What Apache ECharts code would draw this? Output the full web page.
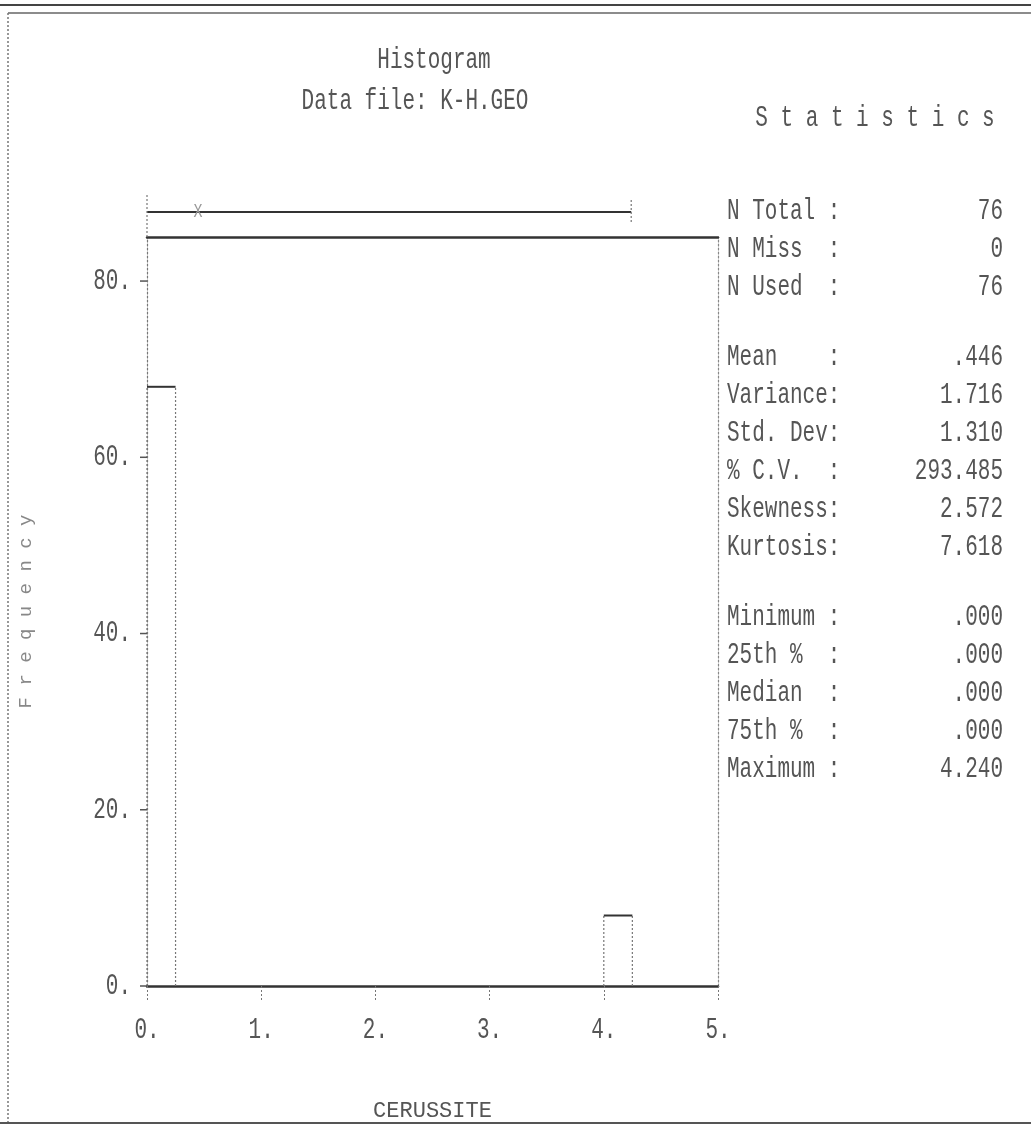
<!DOCTYPE html>
<html><head><meta charset="utf-8">
<script src="https://cdn.jsdelivr.net/npm/echarts@6/dist/echarts.min.js"></script>
<style>html,body{margin:0;padding:0;background:#fff}#c{width:1031px;height:1130px}</style>
</head><body><div id="c"></div>
<script>
// ---- data ----
const binStart = [0,0.25,0.5,0.75,1,1.25,1.5,1.75,2,2.25,2.5,2.75,3,3.25,3.5,3.75,4,4.25,4.5,4.75];
const binEnd   = [0.25,0.5,0.75,1,1.25,1.5,1.75,2,2.25,2.5,2.75,3,3.25,3.5,3.75,4,4.25,4.5,4.75,5];
const counts   = [68,0,0,0,0,0,0,0,0,0,0,0,0,0,0,0,8,0,0,0];
const xTicks = [0,1,2,3,4,5];
const yTicks = [0,20,40,60,80];
const rangeMin = 0.000, rangeMax = 4.240, rangeMean = 0.446;
const statGroups = [
  [["N Total :","76"],["N Miss  :","0"],["N Used  :","76"]],
  [["Mean    :",".446"],["Variance:","1.716"],["Std. Dev:","1.310"],["% C.V.  :","293.485"],["Skewness:","2.572"],["Kurtosis:","7.618"]],
  [["Minimum :",".000"],["25th %  :",".000"],["Median  :",".000"],["75th %  :",".000"],["Maximum :","4.240"]]
];
const titleText = "Histogram";
const subTitleText = "Data file: K-H.GEO";
const xName = "CERUSSITE";
const yName = "F r e q u e n c y";

const FONT = "'Liberation Mono','DejaVu Sans Mono',monospace";
const TXT = '#555';
const SY = 1.4;
const chart = echarts.init(document.getElementById('c'));

function txt(x,y,s,align,size,color){
  return {type:'text',x:x,y:y,scaleY:SY,style:{text:s,font:(size||21)+"px "+FONT,fill:color||TXT,textAlign:align||'left',textVerticalAlign:'middle'}};
}

const graphics = [];
// frame
graphics.push({type:'line',shape:{x1:0,y1:5,x2:1031,y2:5},style:{stroke:'#444',lineWidth:2}});
graphics.push({type:'line',shape:{x1:8,y1:13,x2:1031,y2:13},style:{stroke:'#666',lineWidth:1.5}});
graphics.push({type:'line',shape:{x1:8,y1:13,x2:8,y2:1124},style:{stroke:'#777',lineWidth:1.5,lineDash:[2,2]}});
graphics.push({type:'line',shape:{x1:0,y1:1123,x2:1031,y2:1123},style:{stroke:'#555',lineWidth:2}});
// titles
graphics.push(txt(434,60,titleText,'center'));
graphics.push(txt(415,101,subTitleText,'center'));
graphics.push(txt(875,118,"S t a t i s t i c s",'center'));
// stats
let yy = 211;
statGroups.forEach(g=>{
  g.forEach(r=>{
    graphics.push(txt(727,yy,r[0],'left'));
    graphics.push(txt(1003,yy,r[1],'right'));
    yy += 38;
  });
  yy += 32;
});

chart.setOption({
  animation:false,
  backgroundColor:'#fff',
  grid:{left:147,right:313,top:237,bottom:144},
  xAxis:[{
    type:'value',min:0,max:5,interval:1,
    name:xName,nameLocation:'middle',nameGap:114,
    nameTextStyle:{color:TXT,fontFamily:FONT,fontSize:22},
    axisLine:{show:true,onZero:false,lineStyle:{color:'#333',width:2.5}},
    axisTick:{show:true,length:14,lineStyle:{color:'#777',width:1,type:[2,2]}},
    axisLabel:{show:true,formatter:()=>''},
    splitLine:{show:false}
  },{
    type:'value',min:0,max:5,position:'top',
    axisLine:{show:true,onZero:false,lineStyle:{color:'#333',width:2.5}},
    axisTick:{show:false},axisLabel:{show:false},splitLine:{show:false}
  }],
  yAxis:[{
    type:'value',min:0,max:85,
    name:yName,nameLocation:'middle',nameGap:112,nameRotate:90,
    nameTextStyle:{color:'#888',fontFamily:FONT,fontSize:19},
    axisLine:{show:true,onZero:false,lineStyle:{color:'#777',width:1.2,type:[2,2]}},
    axisTick:{show:false},
    axisLabel:{show:false},
    splitLine:{show:false}
  },{
    type:'value',min:0,max:85,position:'right',
    axisLine:{show:true,onZero:false,lineStyle:{color:'#888',width:1.2,type:[2,2]}},
    axisTick:{show:false},axisLabel:{show:false},splitLine:{show:false}
  }],
  graphic:graphics,
  series:[{
    type:'custom',
    clip:false,
    data:binStart.map((s,i)=>[s,binEnd[i],counts[i]]),
    encode:{x:[0,1],y:2},
    renderItem:function(params,api){
      const c = api.value(2);
      if(!c) return null;
      const p0 = api.coord([api.value(0),0]);
      const p1 = api.coord([api.value(1),c]);
      return {type:'group',children:[
        {type:'line',shape:{x1:p0[0],y1:p0[1],x2:p0[0],y2:p1[1]},style:{stroke:'#777',lineWidth:1.2,lineDash:[2,2]}},
        {type:'line',shape:{x1:p1[0],y1:p0[1],x2:p1[0],y2:p1[1]},style:{stroke:'#777',lineWidth:1.2,lineDash:[2,2]}},
        {type:'line',shape:{x1:p0[0],y1:p1[1],x2:p1[0],y2:p1[1]},style:{stroke:'#333',lineWidth:2}}
      ]};
    }
  },{
    type:'custom',
    clip:false,
    data:[[rangeMin,rangeMax,rangeMean]],
    encode:{x:[0,1,2]},
    renderItem:function(params,api){
      const xa = api.coord([api.value(0),0])[0];
      const xb = api.coord([api.value(1),0])[0];
      const xm = api.coord([api.value(2),0])[0];
      const y = params.coordSys.y - 25;
      return {type:'group',children:[
        {type:'line',shape:{x1:xa,y1:y,x2:xb,y2:y},style:{stroke:'#333',lineWidth:2}},
        {type:'line',shape:{x1:xa,y1:y-17,x2:xa,y2:y+25},style:{stroke:'#777',lineWidth:1.2,lineDash:[2,2]}},
        {type:'line',shape:{x1:xb,y1:y-12,x2:xb,y2:y+10},style:{stroke:'#777',lineWidth:1.2,lineDash:[2,2]}},
        {type:'text',x:xm,y:y,scaleY:1.3,style:{text:'X',font:"15px "+FONT,fill:'#999',textAlign:'center',textVerticalAlign:'middle'}}
      ]};
    }
  },{
    // x tick labels, placed through the x scale
    type:'custom',clip:false,
    data:xTicks.map(v=>[v]),
    encode:{x:0},
    renderItem:function(params,api){
      const p = api.coord([api.value(0),0]);
      return {type:'text',x:p[0],y:p[1]+44,scaleY:SY,style:{text:api.value(0)+'.',font:"21px "+FONT,fill:TXT,textAlign:'center',textVerticalAlign:'middle'}};
    }
  },{
    // y ticks and tick labels, placed through the y scale
    type:'custom',clip:false,
    data:yTicks.map(v=>[0,v]),
    encode:{x:0,y:1},
    renderItem:function(params,api){
      const p = api.coord([0,api.value(1)]);
      return {type:'group',children:[
        {type:'line',shape:{x1:p[0]-7,y1:p[1],x2:p[0],y2:p[1]},style:{stroke:'#555',lineWidth:1.5}},
        {type:'text',x:p[0]-16,y:p[1],scaleY:SY,style:{text:api.value(1)+'.',font:"21px "+FONT,fill:TXT,textAlign:'right',textVerticalAlign:'middle'}}
      ]};
    }
  }]
});
</script></body></html>
